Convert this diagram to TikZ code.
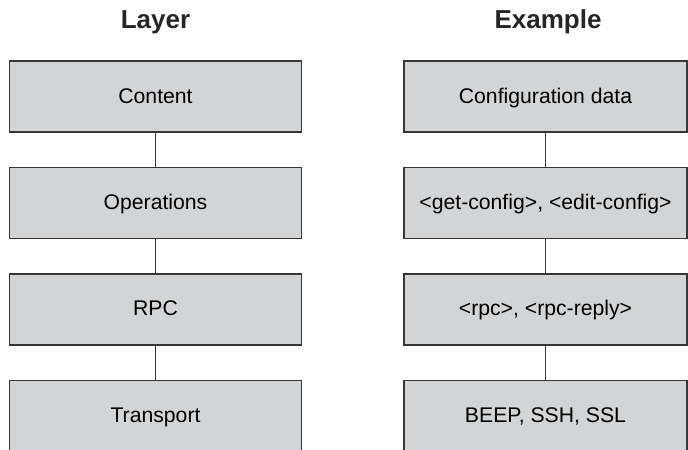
\documentclass[tikz,border=0pt]{standalone}
\usepackage{fontspec}
\setmainfont{Liberation Sans}
\usetikzlibrary{positioning}
\definecolor{boxgray}{RGB}{211,212,214}
\definecolor{edgegray}{RGB}{55,55,55}
\tikzset{lnk/.style={draw=edgegray, line width=0.5pt},
  lyr/.style={draw=edgegray, line width=0.7pt, fill=boxgray, minimum height=35.5pt, inner sep=0pt, text height=8pt, text depth=1.4pt, font=\fontsize{10.6}{12}\selectfont},
  hdr/.style={anchor=base, text=black!85, font=\bfseries\fontsize{13}{15}\selectfont}}

\begin{document}
\begin{tikzpicture}[node distance=17pt]
  \useasboundingbox (0,0) rectangle (344pt,-224.5pt);
  \clip (0,0) rectangle (344pt,-224.5pt);
  % layer column
  \node[lyr, minimum width=146pt] (con) at (77.75pt,-48.25pt) {Content};
  \node[lyr, minimum width=146pt, below=of con] (ops) {Operations};
  \node[lyr, minimum width=146pt, below=of ops] (rpc) {RPC};
  \node[lyr, minimum width=146pt, below=of rpc] (trn) {Transport};
  % example column
  \node[lyr, minimum width=141.5pt] (cfg) at (272.75pt,-48.25pt) {Configuration data};
  \node[lyr, minimum width=141.5pt, below=of cfg] (gec) {<get-config>, <edit-config>};
  \node[lyr, minimum width=141.5pt, below=of gec] (rpr) {<rpc>, <rpc-reply>};
  \node[lyr, minimum width=141.5pt, below=of rpr] (bss) {BEEP, SSH, SSL};
  \foreach \a/\b in {con/ops, ops/rpc, rpc/trn, cfg/gec, gec/rpr, rpr/bss}{\draw[lnk] (\a.south) -- (\b.north);}
  \node[hdr] (hlay) at (77.75pt,-14.5pt) {Layer};
  \node[hdr] (hexm) at (274pt,-14.5pt) {Example};
\end{tikzpicture}
\end{document}
